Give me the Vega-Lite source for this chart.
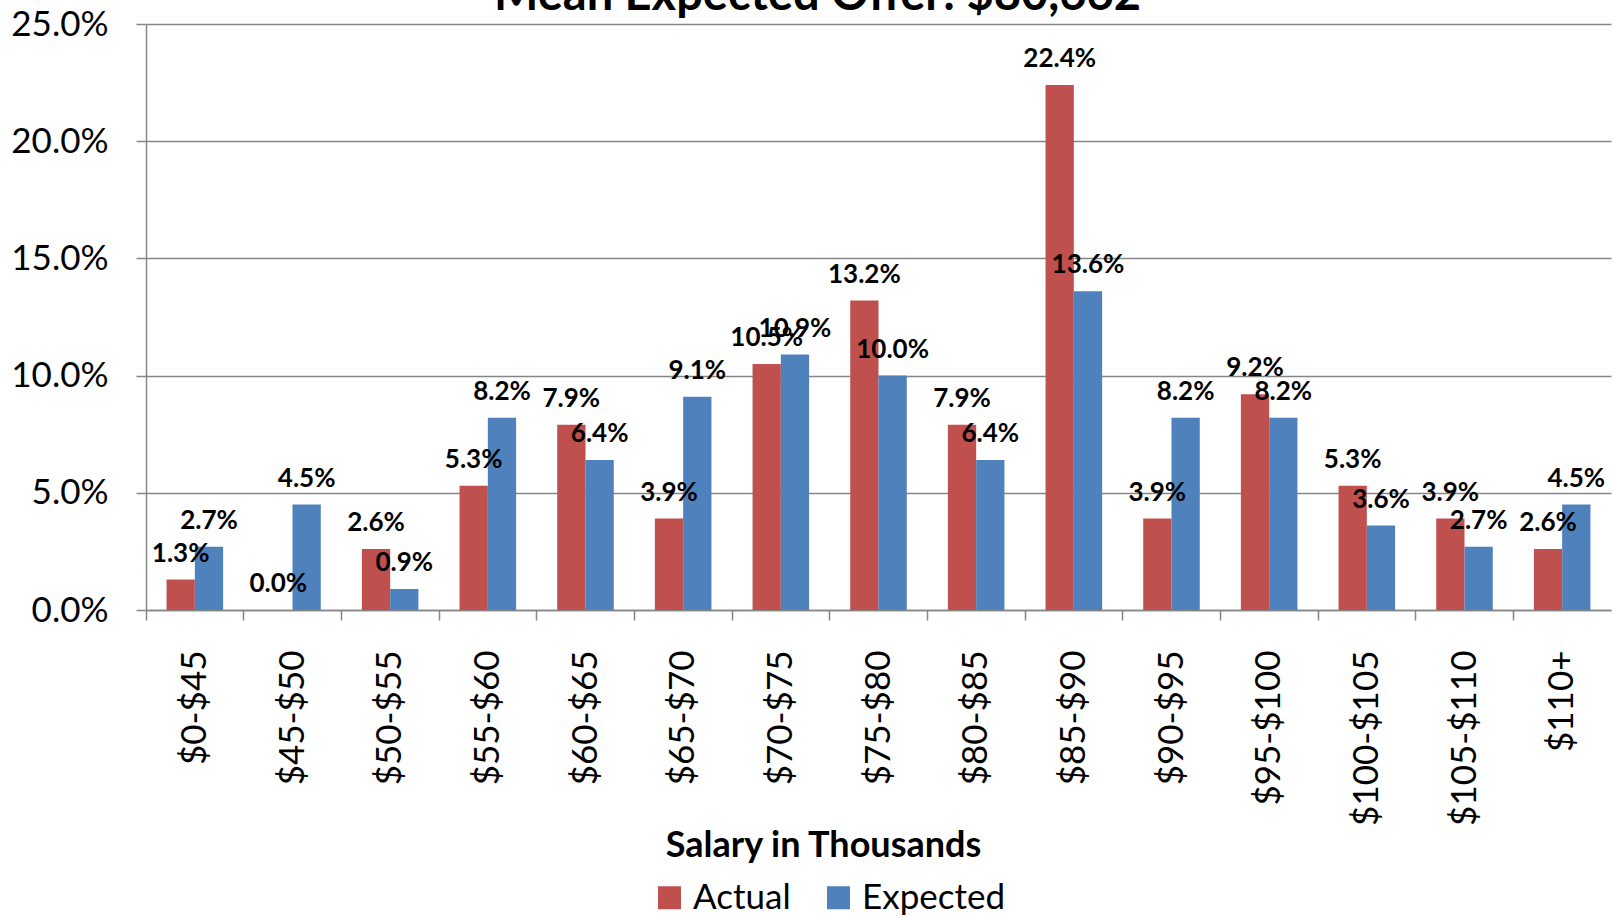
{
  "$schema": "https://vega.github.io/schema/vega-lite/v6.json",
  "autosize": "none",
  "width": 1465,
  "height": 586,
  "padding": {"left": 146, "top": 24, "right": 3, "bottom": 308},
  "background": "white",
  "config": {"font": "Lato", "view": {"stroke": null}},
  "title": {
    "text": "Mean Expected Offer: $80,662",
    "font": "Lato",
    "fontSize": 47,
    "fontWeight": "bold",
    "color": "black",
    "anchor": "middle",
    "frame": "group",
    "baseline": "alphabetic",
    "offset": 0,
    "dy": 50,
    "dx": -61
  },
  "data": {
    "values": [
      {"cat": "$0-$45", "series": "Actual", "value": 0.013},
      {"cat": "$0-$45", "series": "Expected", "value": 0.027},
      {"cat": "$45-$50", "series": "Actual", "value": 0.0},
      {"cat": "$45-$50", "series": "Expected", "value": 0.045},
      {"cat": "$50-$55", "series": "Actual", "value": 0.026},
      {"cat": "$50-$55", "series": "Expected", "value": 0.009},
      {"cat": "$55-$60", "series": "Actual", "value": 0.053},
      {"cat": "$55-$60", "series": "Expected", "value": 0.082},
      {"cat": "$60-$65", "series": "Actual", "value": 0.079},
      {"cat": "$60-$65", "series": "Expected", "value": 0.064},
      {"cat": "$65-$70", "series": "Actual", "value": 0.039},
      {"cat": "$65-$70", "series": "Expected", "value": 0.091},
      {"cat": "$70-$75", "series": "Actual", "value": 0.105},
      {"cat": "$70-$75", "series": "Expected", "value": 0.109},
      {"cat": "$75-$80", "series": "Actual", "value": 0.132},
      {"cat": "$75-$80", "series": "Expected", "value": 0.1},
      {"cat": "$80-$85", "series": "Actual", "value": 0.079},
      {"cat": "$80-$85", "series": "Expected", "value": 0.064},
      {"cat": "$85-$90", "series": "Actual", "value": 0.224},
      {"cat": "$85-$90", "series": "Expected", "value": 0.136},
      {"cat": "$90-$95", "series": "Actual", "value": 0.039},
      {"cat": "$90-$95", "series": "Expected", "value": 0.082},
      {"cat": "$95-$100", "series": "Actual", "value": 0.092},
      {"cat": "$95-$100", "series": "Expected", "value": 0.082},
      {"cat": "$100-$105", "series": "Actual", "value": 0.053},
      {"cat": "$100-$105", "series": "Expected", "value": 0.036},
      {"cat": "$105-$110", "series": "Actual", "value": 0.039},
      {"cat": "$105-$110", "series": "Expected", "value": 0.027},
      {"cat": "$110+", "series": "Actual", "value": 0.026},
      {"cat": "$110+", "series": "Expected", "value": 0.045}
    ]
  },
  "resolve": {"axis": {"x": "independent"}},
  "layer": [
    {
      "mark": {"type": "bar", "stroke": null},
      "encoding": {
        "x": {
          "field": "cat", "type": "nominal", "sort": null,
          "scale": {"paddingInner": 0, "paddingOuter": 0},
          "axis": {
            "orient": "bottom",
            "labels": false, "title": null, "ticks": true, "tickSize": 10,
            "tickColor": "#868686", "tickWidth": 1.5, "bandPosition": 0,
            "domain": true, "domainColor": "#868686", "domainWidth": 1.5, "grid": false
          }
        },
        "xOffset": {
          "field": "series", "type": "nominal",
          "scale": {"paddingInner": 0, "paddingOuter": 0.727}
        },
        "y": {
          "field": "value", "type": "quantitative",
          "scale": {"domain": [0, 0.25], "nice": false},
          "axis": {
            "values": [0, 0.05, 0.1, 0.15, 0.2, 0.25],
            "format": ".1%",
            "title": null,
            "grid": true, "gridColor": "#868686", "gridWidth": 1.5,
            "domain": true, "domainColor": "#868686", "domainWidth": 1.5,
            "ticks": true, "tickSize": 10, "tickColor": "#868686", "tickWidth": 1.5,
            "labelFontSize": 35, "labelFont": "Lato", "labelColor": "black",
            "labelPadding": 28
          }
        },
        "color": {
          "field": "series", "type": "nominal",
          "scale": {"domain": ["Actual", "Expected"], "range": ["#C0504D", "#4F81BD"]},
          "legend": {
            "title": null,
            "orient": "none",
            "direction": "horizontal",
            "legendX": 506,
            "legendY": 856,
            "symbolType": "square",
            "symbolSize": 529,
            "symbolStrokeWidth": 0,
            "labelFontSize": 35,
            "labelFont": "Lato",
            "labelColor": "black",
            "labelOffset": 6,
            "columnPadding": 30
          }
        }
      }
    },
    {
      "mark": {"type": "text", "baseline": "alphabetic", "dy": -18, "font": "Lato", "fontSize": 26, "fontWeight": "bold", "color": "black"},
      "encoding": {
        "x": {
          "field": "cat", "type": "nominal", "sort": null,
          "axis": {
            "orient": "bottom",
            "ticks": false, "domain": false, "grid": false,
            "labelAngle": -90, "labelAlign": "right", "labelBaseline": "middle",
            "labelPadding": 40, "labelFontSize": 35, "labelFont": "Lato", "labelColor": "black",
            "title": "Salary in Thousands",
            "titleFont": "Lato", "titleFontSize": 36, "titleFontWeight": "bold", "titleColor": "black",
            "titleBaseline": "alphabetic", "titleY": 246, "titleX": 677, "titleAlign": "center"
          }
        },
        "xOffset": {"field": "series", "type": "nominal"},
        "y": {"field": "value", "type": "quantitative"},
        "text": {"field": "value", "type": "quantitative", "format": ".1%"}
      }
    }
  ]
}
